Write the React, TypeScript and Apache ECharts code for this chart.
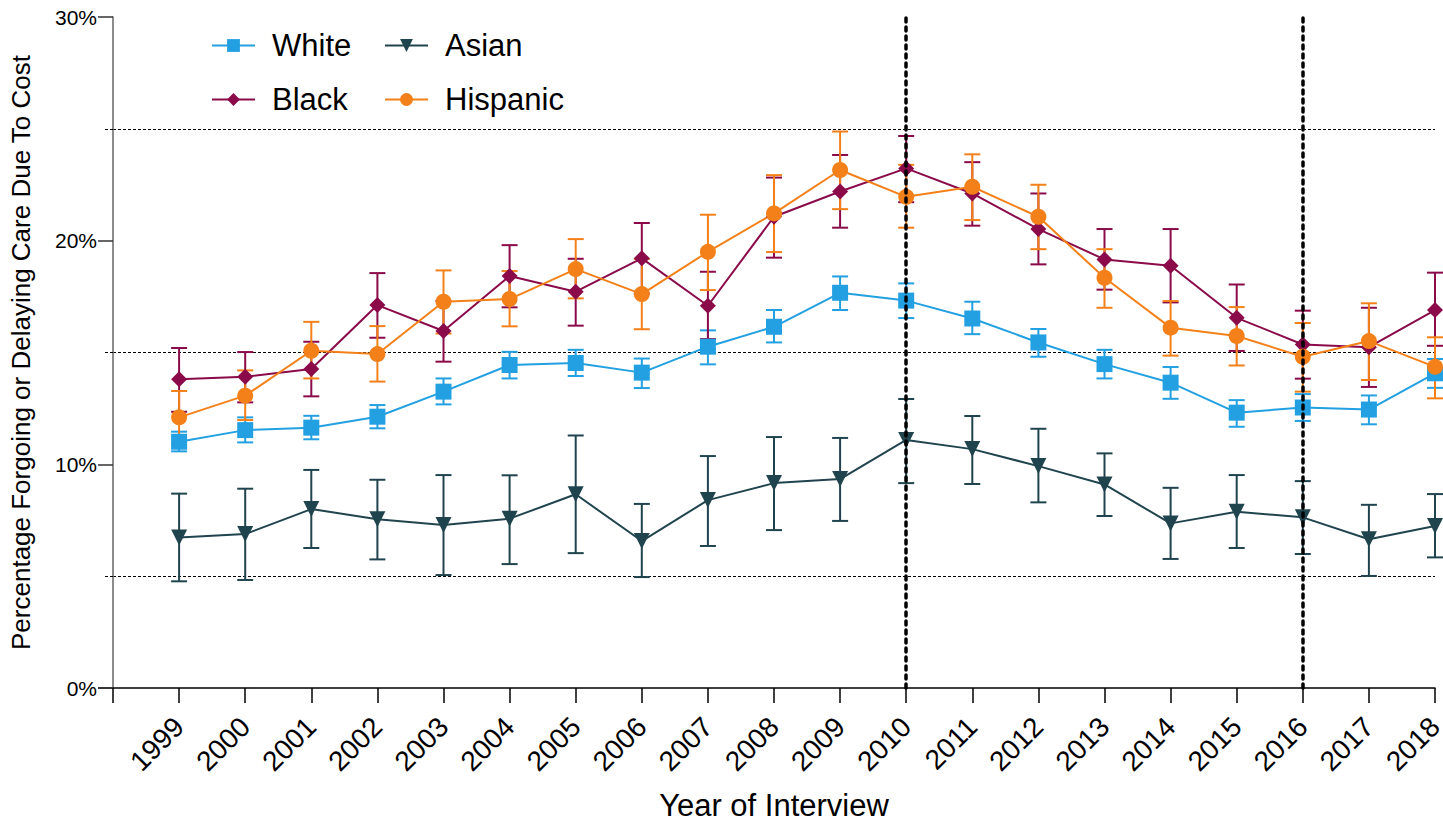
import React, { useEffect, useRef } from "react";
import * as echarts from "echarts";

const years = [1999, 2000, 2001, 2002, 2003, 2004, 2005, 2006, 2007, 2008, 2009, 2010, 2011, 2012, 2013, 2014, 2015, 2016, 2017, 2018];

const whiteVals = [11.01, 11.53, 11.64, 12.13, 13.25, 14.44, 14.53, 14.10, 15.26, 16.15, 17.67, 17.32, 16.52, 15.45, 14.48, 13.65, 12.31, 12.54, 12.45, 14.07];
const whiteLow = [10.58, 10.98, 11.12, 11.61, 12.68, 13.84, 13.95, 13.41, 14.47, 15.45, 16.90, 16.54, 15.82, 14.81, 13.84, 12.93, 11.68, 11.94, 11.79, 13.42];
const whiteHigh = [11.46, 12.10, 12.17, 12.65, 13.84, 15.03, 15.12, 14.73, 15.99, 16.90, 18.40, 18.09, 17.27, 16.05, 15.12, 14.35, 12.87, 13.14, 13.08, 14.71];

const blackVals = [13.80, 13.92, 14.26, 17.12, 15.96, 18.42, 17.72, 19.21, 17.09, 21.07, 22.20, 23.23, 22.11, 20.52, 19.16, 18.88, 16.55, 15.36, 15.24, 16.90];
const blackLow = [12.35, 12.77, 13.04, 15.66, 14.59, 17.02, 16.20, 17.63, 15.60, 19.24, 20.58, 21.72, 20.67, 18.94, 17.81, 17.24, 15.07, 13.83, 13.46, 15.30];
const blackHigh = [15.20, 15.02, 15.48, 18.55, 17.30, 19.80, 19.19, 20.79, 18.61, 22.82, 23.83, 24.68, 23.51, 22.11, 20.52, 20.52, 18.04, 16.87, 17.00, 18.57];

const hispVals = [12.10, 13.07, 15.08, 14.93, 17.27, 17.39, 18.73, 17.61, 19.50, 21.22, 23.16, 21.96, 22.41, 21.07, 18.34, 16.11, 15.74, 14.81, 15.51, 14.36];
const hispLow = [10.90, 11.98, 13.84, 13.70, 15.85, 16.17, 17.42, 16.04, 17.79, 19.49, 21.41, 20.58, 20.92, 19.62, 17.00, 14.86, 14.42, 13.25, 13.77, 12.95];
const hispHigh = [13.28, 14.20, 16.37, 16.18, 18.67, 18.64, 20.07, 19.18, 21.16, 22.93, 24.88, 23.39, 23.86, 22.50, 19.62, 17.30, 17.03, 16.32, 17.20, 15.68];

const asianVals = [6.73, 6.88, 8.00, 7.54, 7.29, 7.57, 8.66, 6.57, 8.40, 9.16, 9.34, 11.09, 10.68, 9.92, 9.10, 7.36, 7.88, 7.63, 6.65, 7.24];
const asianLow = [4.77, 4.83, 6.26, 5.75, 5.05, 5.54, 6.03, 4.96, 6.35, 7.06, 7.47, 9.16, 9.12, 8.30, 7.69, 5.77, 6.26, 5.99, 5.01, 5.84];
const asianHigh = [8.69, 8.91, 9.75, 9.31, 9.52, 9.51, 11.29, 8.23, 10.37, 11.22, 11.18, 12.92, 12.16, 11.59, 10.49, 8.95, 9.52, 9.25, 8.19, 8.67];

const policyYears = [2010, 2016];

const FONT = "'Liberation Sans', Arial, sans-serif";
const C_WHITE = "#22a0e1";
const C_BLACK = "#8a0a4a";
const C_ASIAN = "#20444d";
const C_HISP = "#f48019";

function errSeries(name: string, color: string, low: number[], high: number[]) {
  return {
    type: "custom",
    name,
    z: 2,
    silent: true,
    data: years.map((y, i) => [y, low[i], high[i]]),
    encode: { x: 0, y: [1, 2] },
    renderItem: (params: any, api: any) => {
      const x = api.value(0);
      const pLo = api.coord([x, api.value(1)]);
      const pHi = api.coord([x, api.value(2)]);
      const hw = 8;
      const st = { stroke: color, lineWidth: 2 };
      return {
        type: "group",
        children: [
          { type: "line", shape: { x1: pLo[0], y1: pLo[1], x2: pHi[0], y2: pHi[1] }, style: st },
          { type: "line", shape: { x1: pLo[0] - hw, y1: pLo[1], x2: pLo[0] + hw, y2: pLo[1] }, style: st },
          { type: "line", shape: { x1: pHi[0] - hw, y1: pHi[1], x2: pHi[0] + hw, y2: pHi[1] }, style: st },
        ],
      };
    },
  };
}

function lineSeries(name: string, color: string, vals: number[], symbol: string, size: number, extra: any = {}) {
  return {
    type: "line",
    name,
    z: 3,
    data: years.map((y, i) => [y, vals[i]]),
    symbol,
    symbolSize: size,
    showSymbol: true,
    itemStyle: { color },
    lineStyle: { color, width: 2 },
    ...extra,
  };
}

function legendItem(name: string, left: number, top: number) {
  return {
    data: [name],
    left,
    top,
    itemWidth: 43,
    itemHeight: 16,
    selectedMode: false,
    textStyle: { fontSize: 31, color: "#000", fontFamily: FONT, padding: [0, 0, 0, 12] },
  };
}

export default function App() {
  const ref = useRef<HTMLDivElement>(null);
  useEffect(() => {
    if (!ref.current) return;
    const chart = echarts.init(ref.current, null, { renderer: "svg" });
    chart.setOption({
      animation: false,
      backgroundColor: "#fff",
      textStyle: { fontFamily: FONT },
      grid: { left: 113, right: 8, top: 17, bottom: 139, containLabel: false, outerBoundsMode: "none" },
      legend: [
        legendItem("White", 206, 25),
        legendItem("Asian", 379, 25),
        legendItem("Black", 206, 79),
        legendItem("Hispanic", 379, 79),
      ],
      graphic: [
        {
          type: "line",
          silent: true,
          shape: { x1: 98, y1: 688, x2: 113, y2: 688 },
          style: { stroke: "#000", lineWidth: 1.5 },
        },
      ],
      xAxis: {
        type: "value",
        min: 1998,
        max: 2018,
        interval: 1,
        name: "Year of Interview",
        nameLocation: "middle",
        nameGap: 102,
        nameTextStyle: { fontSize: 31, color: "#000", fontFamily: FONT },
        axisLine: { show: true, lineStyle: { color: "#000", width: 1.5 } },
        axisTick: {
          show: true,
          length: 15,
          lineStyle: { color: "#000", width: 1.5 },
          interval: (idx: number, v: any) => Number(v) !== 1998,
        },
        axisLabel: {
          rotate: 45,
          fontSize: 28,
          color: "#000",
          margin: 34,
          fontFamily: FONT,
          formatter: (v: number) => (v === 1998 ? "" : String(v)),
        },
        splitLine: { show: false },
      },
      yAxis: {
        type: "value",
        min: 0,
        max: 30,
        interval: 10,
        name: "Percentage Forgoing or Delaying Care Due To Cost",
        nameLocation: "middle",
        nameGap: 79,
        nameTextStyle: { fontSize: 26, color: "#000", fontFamily: FONT },
        axisLine: { show: true, lineStyle: { color: "#666", width: 1.5 } },
        axisTick: { show: true, length: 15, lineStyle: { color: "#333", width: 1.5 } },
        minorTick: { show: true, splitNumber: 2, length: 8, lineStyle: { color: "#000", width: 1, type: [3, 2] } },
        minorSplitLine: { show: true, lineStyle: { color: "#000", width: 1, type: [3, 2] } },
        axisLabel: { fontSize: 21, color: "#000", margin: 16, fontFamily: FONT, formatter: "{value}%" },
        splitLine: { show: false },
      },
      series: [
        errSeries("Asian CI", C_ASIAN, asianLow, asianHigh),
        errSeries("White CI", C_WHITE, whiteLow, whiteHigh),
        errSeries("Black CI", C_BLACK, blackLow, blackHigh),
        errSeries("Hispanic CI", C_HISP, hispLow, hispHigh),
        lineSeries("Asian", C_ASIAN, asianVals, "triangle", 16, {
          symbolRotate: 180,
          markLine: {
            silent: true,
            symbol: "none",
            label: { show: false },
            lineStyle: { color: "#000", width: 3.5, type: [4, 5], cap: "round" },
            data: policyYears.map((y) => ({ xAxis: y })),
          },
        }),
        lineSeries("White", C_WHITE, whiteVals, "rect", 16),
        lineSeries("Black", C_BLACK, blackVals, "diamond", 16),
        lineSeries("Hispanic", C_HISP, hispVals, "circle", 16),
      ],
    });
    return () => chart.dispose();
  }, []);
  return <div ref={ref} style={{ position: "fixed", left: 0, top: 0, width: 1443, height: 827 }} />;
}
